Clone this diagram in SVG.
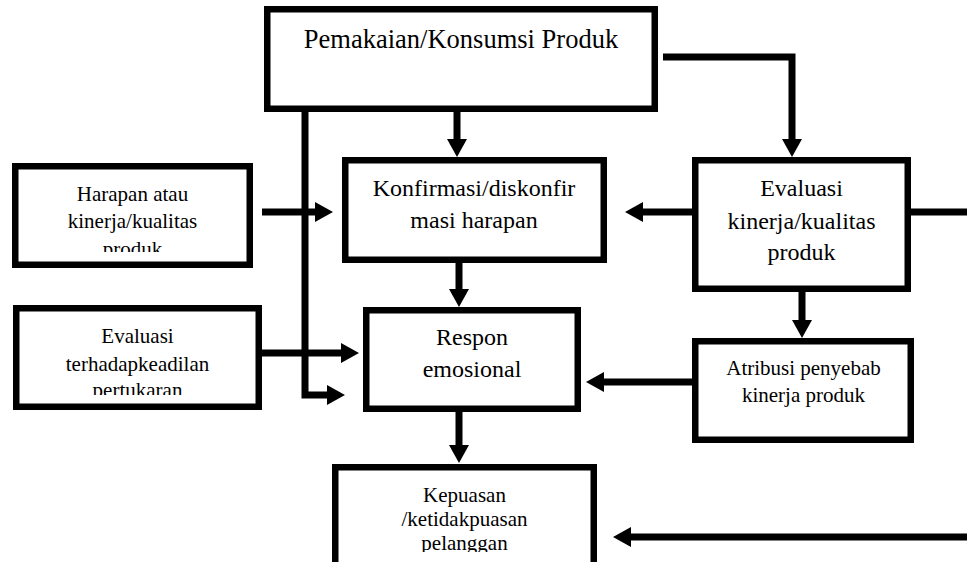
<svg xmlns="http://www.w3.org/2000/svg" width="967" height="562" viewBox="0 0 967 562">
<style>
.box{fill:#fff;stroke:#000;stroke-width:6.5}
.t{font-family:"Liberation Serif","Times New Roman",serif;fill:#000;text-anchor:middle}
.s21{font-size:21px}
.s24{font-size:24px}
.s26{font-size:26.5px}
.c{fill:none;stroke:#000;stroke-width:7;stroke-linejoin:miter}
</style>
<defs>
<marker id="ah" markerUnits="userSpaceOnUse" markerWidth="20" markerHeight="20" viewBox="0 0 18 20" refX="2" refY="10" orient="auto">
<path d="M0,0 L18,10 L0,20 z" fill="#000"/>
</marker>
<clipPath id="clipH"><rect x="0" y="150" width="270" height="102"/></clipPath>
<clipPath id="clipE"><rect x="0" y="300" width="270" height="95"/></clipPath>
<clipPath id="clipK"><rect x="330" y="460" width="270" height="92"/></clipPath>
</defs>
<rect width="967" height="562" fill="#fff"/>
<g id="connectors">
<path class="c" d="M457,112 V141" marker-end="url(#ah)"/>
<path class="c" d="M663,57 H792 V141" marker-end="url(#ah)"/>
<path class="c" d="M305,112 V395 H329" marker-end="url(#ah)"/>
<path class="c" d="M262,212 H317" marker-end="url(#ah)"/>
<path class="c" d="M692,212 H641" marker-end="url(#ah)"/>
<path class="c" d="M911,212 H975 V537 H629" marker-end="url(#ah)"/>
<path class="c" d="M459,263 V291" marker-end="url(#ah)"/>
<path class="c" d="M802,292 V322" marker-end="url(#ah)"/>
<path class="c" d="M692,382 H602" marker-end="url(#ah)"/>
<path class="c" d="M262,353 H343" marker-end="url(#ah)"/>
<path class="c" d="M459,412 V447" marker-end="url(#ah)"/>
</g>
<g id="pemakaian">
<rect class="box" x="267.25" y="9.25" width="387.5" height="99.5"/>
<text class="t s26" x="461" y="48">Pemakaian/Konsumsi Produk</text>
</g>
<g id="harapan">
<rect class="box" x="15.25" y="166.25" width="234.5" height="98.5"/>
<g clip-path="url(#clipH)">
<text class="t s21" x="132.5" y="201">Harapan atau</text>
<text class="t s21" x="132.5" y="228">kinerja/kualitas</text>
<text class="t s21" x="132.5" y="256">produk</text>
</g>
</g>
<g id="konfirmasi">
<rect class="box" x="345.25" y="160.25" width="258.5" height="99.5"/>
<text class="t s24" x="474" y="196">Konfirmasi/diskonfir</text>
<text class="t s24" x="474" y="228">masi harapan</text>
</g>
<g id="evaluasi-kinerja">
<rect class="box" x="695.25" y="160.25" width="212.5" height="128.5"/>
<text class="t s24" x="801.5" y="196">Evaluasi</text>
<text class="t s24" x="801.5" y="229">kinerja/kualitas</text>
<text class="t s24" x="801.5" y="260">produk</text>
</g>
<g id="atribusi">
<rect class="box" x="695.25" y="341.25" width="215.5" height="98.5"/>
<text class="t s21" x="803.5" y="375">Atribusi penyebab</text>
<text class="t s21" x="803.5" y="402">kinerja produk</text>
</g>
<g id="respon">
<rect class="box" x="366.25" y="310.25" width="211.5" height="98.5"/>
<text class="t s24" x="472" y="345">Respon</text>
<text class="t s24" x="472" y="377">emosional</text>
</g>
<g id="evaluasi-keadilan">
<rect class="box" x="16.25" y="308.25" width="242.5" height="98.5"/>
<g clip-path="url(#clipE)">
<text class="t s21" x="137.5" y="343">Evaluasi</text>
<text class="t s21" x="137.5" y="371">terhadapkeadilan</text>
<text class="t s21" x="137.5" y="397">pertukaran</text>
</g>
</g>
<g id="kepuasan">
<rect class="box" x="335.25" y="467.25" width="258.5" height="120"/>
<g clip-path="url(#clipK)">
<text class="t s21" x="464.5" y="502">Kepuasan</text>
<text class="t s21" x="464.5" y="526">/ketidakpuasan</text>
<text class="t s21" x="464.5" y="550">pelanggan</text>
</g>
</g>
</svg>
